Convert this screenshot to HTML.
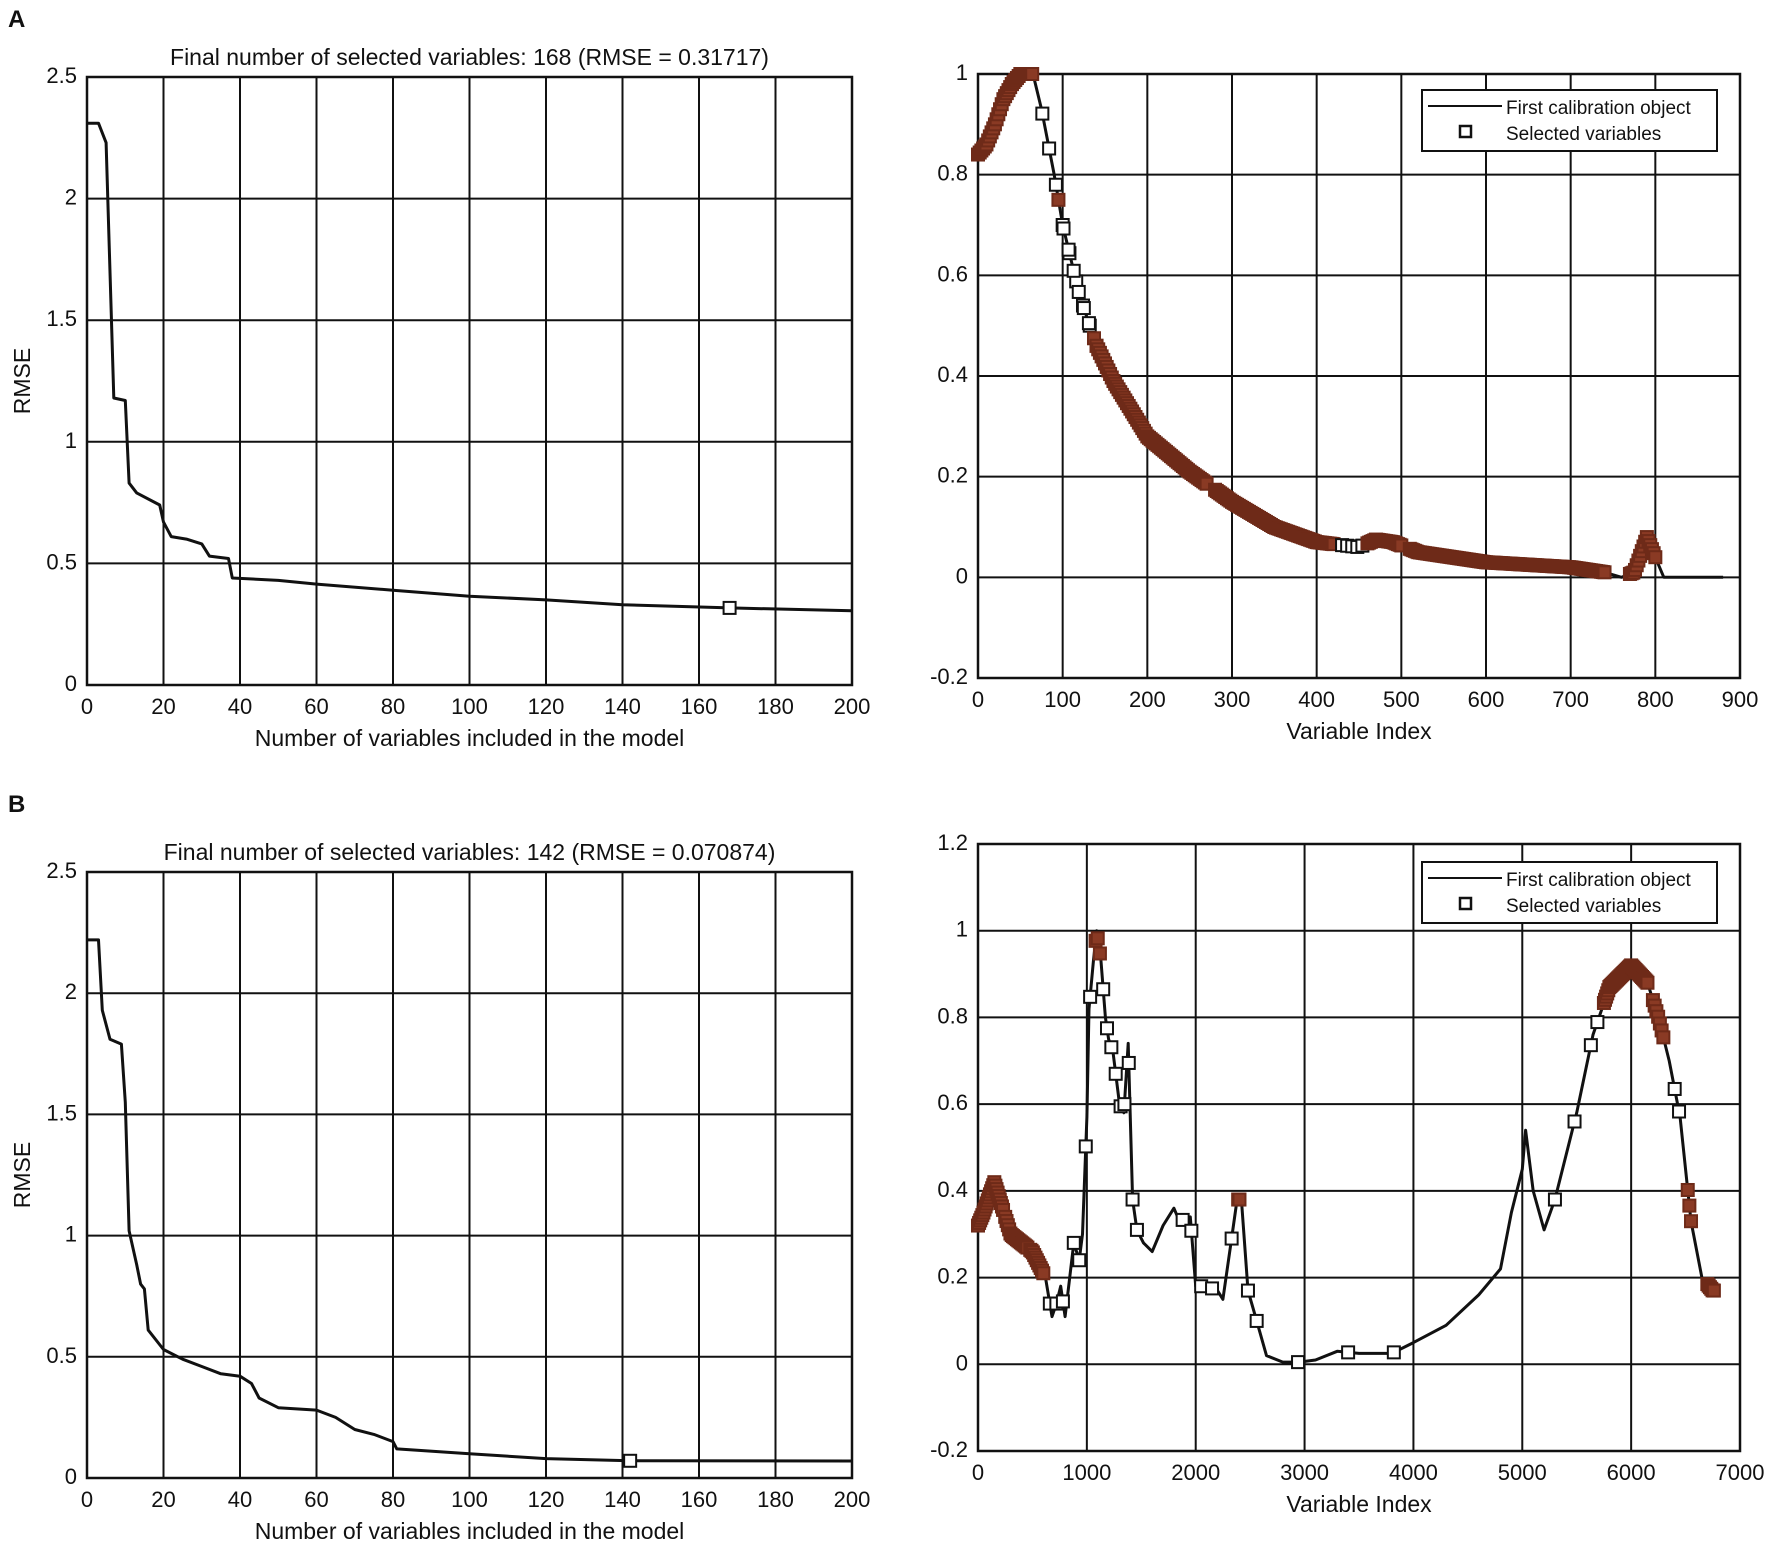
<!DOCTYPE html>
<html><head><meta charset="utf-8"><style>
html,body{margin:0;padding:0;background:#fff}
svg text{font-family:"Liberation Sans",Arial,sans-serif;fill:#111}
</style></head><body>
<svg id="fig" width="1772" height="1543" viewBox="0 0 1772 1543" xmlns="http://www.w3.org/2000/svg">
<text x="8" y="27" font-size="24" font-weight="bold">A</text>
<text x="8" y="812" font-size="24" font-weight="bold">B</text>
</svg>
<script>
// Panel A left: RMSE vs number of variables
const rmseAx=[0,3,5,7,10,11,13,19,20,22,26,30,32,37,38,50,60,80,100,120,140,168,200];
const rmseAy=[2.31,2.31,2.23,1.18,1.17,0.83,0.79,0.74,0.67,0.61,0.60,0.58,0.53,0.52,0.44,0.43,0.415,0.39,0.365,0.35,0.33,0.317,0.305];
const rmseAsel=[168];
const rmseAselY=[0.317];
// Panel A right: spectrum
const specAx=[0,10,20,30,40,50,65,75,90,100,120,140,160,200,250,300,350,400,450,470,490,520,600,700,740,760,775,790,800,810,880];
const specAy=[0.84,0.86,0.9,0.95,0.98,1.0,1.0,0.93,0.8,0.7,0.56,0.46,0.39,0.28,0.21,0.15,0.1,0.07,0.06,0.075,0.07,0.05,0.03,0.02,0.01,0.0,0.01,0.08,0.04,0.0,0.0];
const selArangeStart=[0,40,76,95,140,280,430,460,510,770];
const selArangeEnd=[40,65,140,140,270,420,455,500,740,800];
const selArangeStep=[2,2,8,6,2,2,6,2,2,2];
// Panel B left
const rmseBx=[0,3,4,6,9,10,11,13,14,15,16,20,25,30,35,40,43,45,50,60,65,70,75,80,81,100,120,142,200];
const rmseBy=[2.22,2.22,1.93,1.81,1.79,1.55,1.02,0.88,0.8,0.78,0.61,0.53,0.49,0.46,0.43,0.42,0.39,0.33,0.29,0.28,0.25,0.2,0.18,0.15,0.12,0.1,0.08,0.071,0.07];
const rmseBsel=[142];
const rmseBselY=[0.071];
// Panel B right
const specBx=[0,50,150,200,300,400,500,580,620,680,720,760,800,880,930,960,1000,1020,1060,1090,1130,1170,1200,1240,1300,1340,1380,1420,1460,1520,1600,1700,1800,1850,1950,2000,2100,2200,2250,2330,2380,2420,2480,2560,2650,2800,2950,3100,3300,3500,3800,4000,4300,4600,4800,4900,5000,5030,5100,5200,5300,5500,5650,5800,6000,6150,6250,6350,6450,6550,6650,6750];
const specBy=[0.32,0.35,0.42,0.38,0.3,0.28,0.26,0.22,0.2,0.11,0.14,0.18,0.11,0.28,0.24,0.3,0.57,0.82,0.93,1.0,0.93,0.8,0.75,0.72,0.6,0.58,0.74,0.38,0.31,0.28,0.26,0.32,0.36,0.33,0.34,0.18,0.18,0.17,0.15,0.29,0.38,0.38,0.17,0.1,0.02,0.005,0.005,0.01,0.03,0.025,0.025,0.05,0.09,0.16,0.22,0.35,0.45,0.54,0.4,0.31,0.38,0.58,0.76,0.87,0.92,0.88,0.8,0.7,0.57,0.33,0.2,0.17];
const selBrangeStart=[0,250,480,660,720,780,880,930,990,1030,1080,1150,1185,1225,1265,1310,1345,1385,1420,1460,1880,1960,2050,2150,2330,2390,2480,2560,2940,3400,3820,5300,5480,5630,5690,5750,6200,6400,6440,6520,6700];
const selBrangeEnd=[230,460,600,660,720,780,880,930,990,1030,1120,1150,1185,1225,1265,1310,1345,1385,1420,1460,1880,1960,2050,2150,2330,2410,2480,2560,2940,3400,3820,5300,5480,5630,5690,6150,6300,6400,6440,6550,6760];
const selBrangeStep=[10,12,12,1,1,1,1,1,1,1,20,1,1,1,1,1,1,1,1,1,1,1,1,1,1,12,1,1,1,1,1,1,1,1,1,10,16,1,1,15,12];

const NS="http://www.w3.org/2000/svg";
const svg=document.getElementById('fig');
function mk(tag,attrs,parent){const e=document.createElementNS(NS,tag);for(const k in attrs)e.setAttribute(k,attrs[k]);(parent||svg).appendChild(e);return e;}
function interp(xs,ys,x){for(let i=0;i<xs.length-1;i++){if(x>=xs[i]&&x<=xs[i+1]){const t=(x-xs[i])/(xs[i+1]-xs[i]||1);return ys[i]+t*(ys[i+1]-ys[i]);}}return ys[ys.length-1];}
function expand(s,e,st){const out=[];for(let i=0;i<s.length;i++){for(let v=s[i];v<=e[i];v+=st[i])out.push(v);}return out;}

function panel(o){
  const g=mk('g',{});
  
  
  const sx=v=>o.L+(v-o.x0)/(o.x1-o.x0)*(o.R-o.L);
  const sy=v=>o.B-(v-o.y0)/(o.y1-o.y0)*(o.B-o.T);
  o.xt.forEach(v=>{const l=mk('line',{x1:sx(v),x2:sx(v),y1:o.T,y2:o.B,stroke:'#111','stroke-width':2},g);
    const t=mk('text',{x:sx(v),y:o.B+29,'font-size':22,'text-anchor':'middle'},g);t.textContent=v;});
  o.yt.forEach(v=>{const l=mk('line',{x1:o.L,x2:o.R,y1:sy(v),y2:sy(v),stroke:'#111','stroke-width':2},g);
    const t=mk('text',{x:o.L-10,y:sy(v)+6,'font-size':22,'text-anchor':'end'},g);t.textContent=o.ylab?o.ylab(v):v;});
  const fr=mk('rect',{x:o.L,y:o.T,width:o.R-o.L,height:o.B-o.T,fill:'none',stroke:'#111','stroke-width':2.5},g);
  
  let d='';o.xs.forEach((x,i)=>{d+=(i?'L':'M')+sx(x).toFixed(1)+','+sy(o.ys[i]).toFixed(1);});
  const p=mk('path',{d:d,fill:'none',stroke:'#111','stroke-width':3,'stroke-linejoin':'round'},g);
  
  const sel=o.sel;
  sel.forEach((x,i)=>{const y=o.selY?o.selY[i]:interp(o.xs,o.ys,x);
    const dense=(i>0&&sx(x)-sx(sel[i-1])<3)||(i<sel.length-1&&sx(sel[i+1])-sx(x)<3);
    const r=mk('rect',{x:sx(x)-6,y:sy(y)-6,width:12,height:12,fill:dense?'#8a3a24':'#fff',stroke:dense?'#6e2a18':'#111','stroke-width':2},g);
    });
  if(o.title){const t=mk('text',{x:(o.L+o.R)/2,y:o.T-12,'font-size':23,'text-anchor':'middle'},g);t.textContent=o.title;}
  const xl=mk('text',{x:(o.L+o.R)/2,y:o.B+61,'font-size':23,'text-anchor':'middle'},g);xl.textContent=o.xlabel;
  if(o.ylabel){const yl=mk('text',{x:0,y:0,'font-size':23,'text-anchor':'middle',transform:`translate(30,${(o.T+o.B)/2}) rotate(-90)`},g);yl.textContent=o.ylabel;}
  if(o.legend){const lg=mk('g',{},g);
    const x=o.legend[0],y=o.legend[1];
    mk('rect',{x:x,y:y,width:295,height:61,fill:'#fff',stroke:'#111','stroke-width':2},lg);
    mk('line',{x1:x+6,x2:x+80,y1:y+16,y2:y+16,stroke:'#111','stroke-width':2},lg);
    mk('rect',{x:x+38,y:y+36,width:11,height:11,fill:'#fff',stroke:'#111','stroke-width':2.5},lg);
    const t1=mk('text',{x:x+84,y:y+24,'font-size':19},lg);t1.textContent='First calibration object';
    const t2=mk('text',{x:x+84,y:y+50,'font-size':19},lg);t2.textContent='Selected variables';}
}
const fmt=v=>(Math.round(v*10)/10).toString();
panel({name:'panel-a-rmse-chart',L:87,R:852,T:77,B:685,x0:0,x1:200,y0:0,y1:2.5,xt:[0,20,40,60,80,100,120,140,160,180,200],yt:[0,0.5,1,1.5,2,2.5],
  xs:rmseAx,ys:rmseAy,sel:rmseAsel,selY:rmseAselY,title:'Final number of selected variables: 168  (RMSE = 0.31717)',xlabel:'Number of variables included in the model',ylabel:'RMSE'});
panel({name:'panel-a-spectrum-chart',L:978,R:1740,T:74,B:678,x0:0,x1:900,y0:-0.2,y1:1,xt:[0,100,200,300,400,500,600,700,800,900],yt:[-0.2,0,0.2,0.4,0.6,0.8,1],ylab:fmt,
  xs:specAx,ys:specAy,sel:expand(selArangeStart,selArangeEnd,selArangeStep),xlabel:'Variable Index',legend:[1422,90]});
panel({name:'panel-b-rmse-chart',L:87,R:852,T:872,B:1478,x0:0,x1:200,y0:0,y1:2.5,xt:[0,20,40,60,80,100,120,140,160,180,200],yt:[0,0.5,1,1.5,2,2.5],
  xs:rmseBx,ys:rmseBy,sel:rmseBsel,selY:rmseBselY,title:'Final number of selected variables: 142  (RMSE = 0.070874)',xlabel:'Number of variables included in the model',ylabel:'RMSE'});
panel({name:'panel-b-spectrum-chart',L:978,R:1740,T:844,B:1451,x0:0,x1:7000,y0:-0.2,y1:1.2,xt:[0,1000,2000,3000,4000,5000,6000,7000],yt:[-0.2,0,0.2,0.4,0.6,0.8,1,1.2],ylab:fmt,
  xs:specBx,ys:specBy,sel:expand(selBrangeStart,selBrangeEnd,selBrangeStep),xlabel:'Variable Index',legend:[1422,862]});
</script>
</body></html>
